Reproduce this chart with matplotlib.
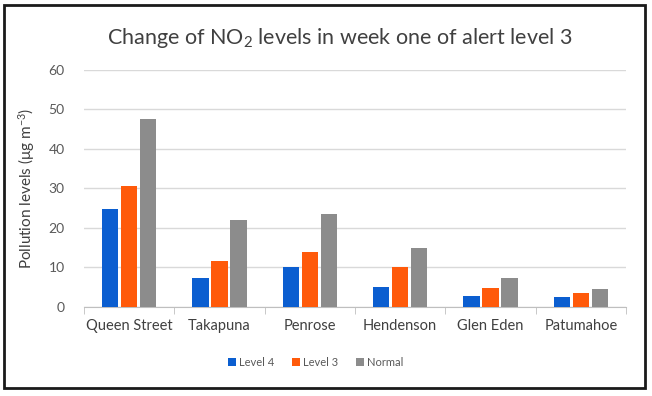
import matplotlib
matplotlib.use("Agg")
import matplotlib.pyplot as plt
import numpy as np
from matplotlib.patches import Rectangle

categories = ["Queen Street", "Takapuna", "Penrose", "Hendenson", "Glen Eden", "Patumahoe"]
level4 = [24.7, 7.4, 10.1, 5.1, 2.6, 2.4]
level3 = [30.6, 11.7, 13.9, 10.1, 4.8, 3.4]
normal = [47.6, 22.0, 23.6, 14.8, 7.4, 4.5]
series_names = ["Level 4", "Level 3", "Normal"]
colors = ["#0B5ED0", "#FF5A0A", "#8C8C8C"]

plt.rcParams['font.family'] = ['Lato', 'DejaVu Sans']
plt.rcParams['mathtext.default'] = 'regular'

fig = plt.figure(figsize=(6.52, 3.96), dpi=100)
ax = fig.add_axes([84/652, 1-306.7/396, (626-84)/652, (306.7-70)/396])

x = np.arange(len(categories))
w = 0.18
step = 0.21
for i, (vals, name, c) in enumerate(zip([level4, level3, normal], series_names, colors)):
    ax.bar(x + (i-1)*step, vals, width=w, color=c, label=name, zorder=3)

ax.set_xlim(-0.5, len(categories)-0.5)
ax.set_ylim(0, 60)
ax.set_yticks(range(0, 61, 10))
ax.yaxis.grid(True, color="#D9D9D9", linewidth=1)
ax.set_axisbelow(True)
for s in ["top", "right", "left"]:
    ax.spines[s].set_visible(False)
ax.spines["bottom"].set_color("#BFBFBF")
ax.tick_params(axis='y', length=0, labelsize=10, labelcolor="#595959", pad=14)
ax.set_xticks(x)
ax.set_xticklabels(categories)
ax.tick_params(axis='x', which='major', length=0, labelsize=10.5, labelcolor="#404040", pad=9)
ax.set_xticks(np.arange(-0.5, len(categories)), minor=True)
ax.tick_params(axis='x', which='minor', length=5, color="#BFBFBF", direction='out')

ax.set_ylabel(r"Pollution levels (μg m$^{-3}$)", fontsize=11, color="#404040", labelpad=8)
fig.text(340/652, 1-38/396, r"Change of NO$_2$ levels in week one of alert level 3",
         ha='center', va='center', fontsize=15.5, color="#404040")

leg = fig.legend(loc='center', bbox_to_anchor=(316/652, 1-362/396), ncol=3, frameon=False,
                 fontsize=8, handlelength=0.7, handleheight=0.7, handletextpad=0.3,
                 columnspacing=1.6, labelcolor="#595959")

fig.add_artist(Rectangle((4/652, 1-388/396), (645-4)/652, (388-5)/396,
                         transform=fig.transFigure, fill=False, edgecolor="#1A1A1A", linewidth=2))

fig.savefig("out.png", dpi=100)
